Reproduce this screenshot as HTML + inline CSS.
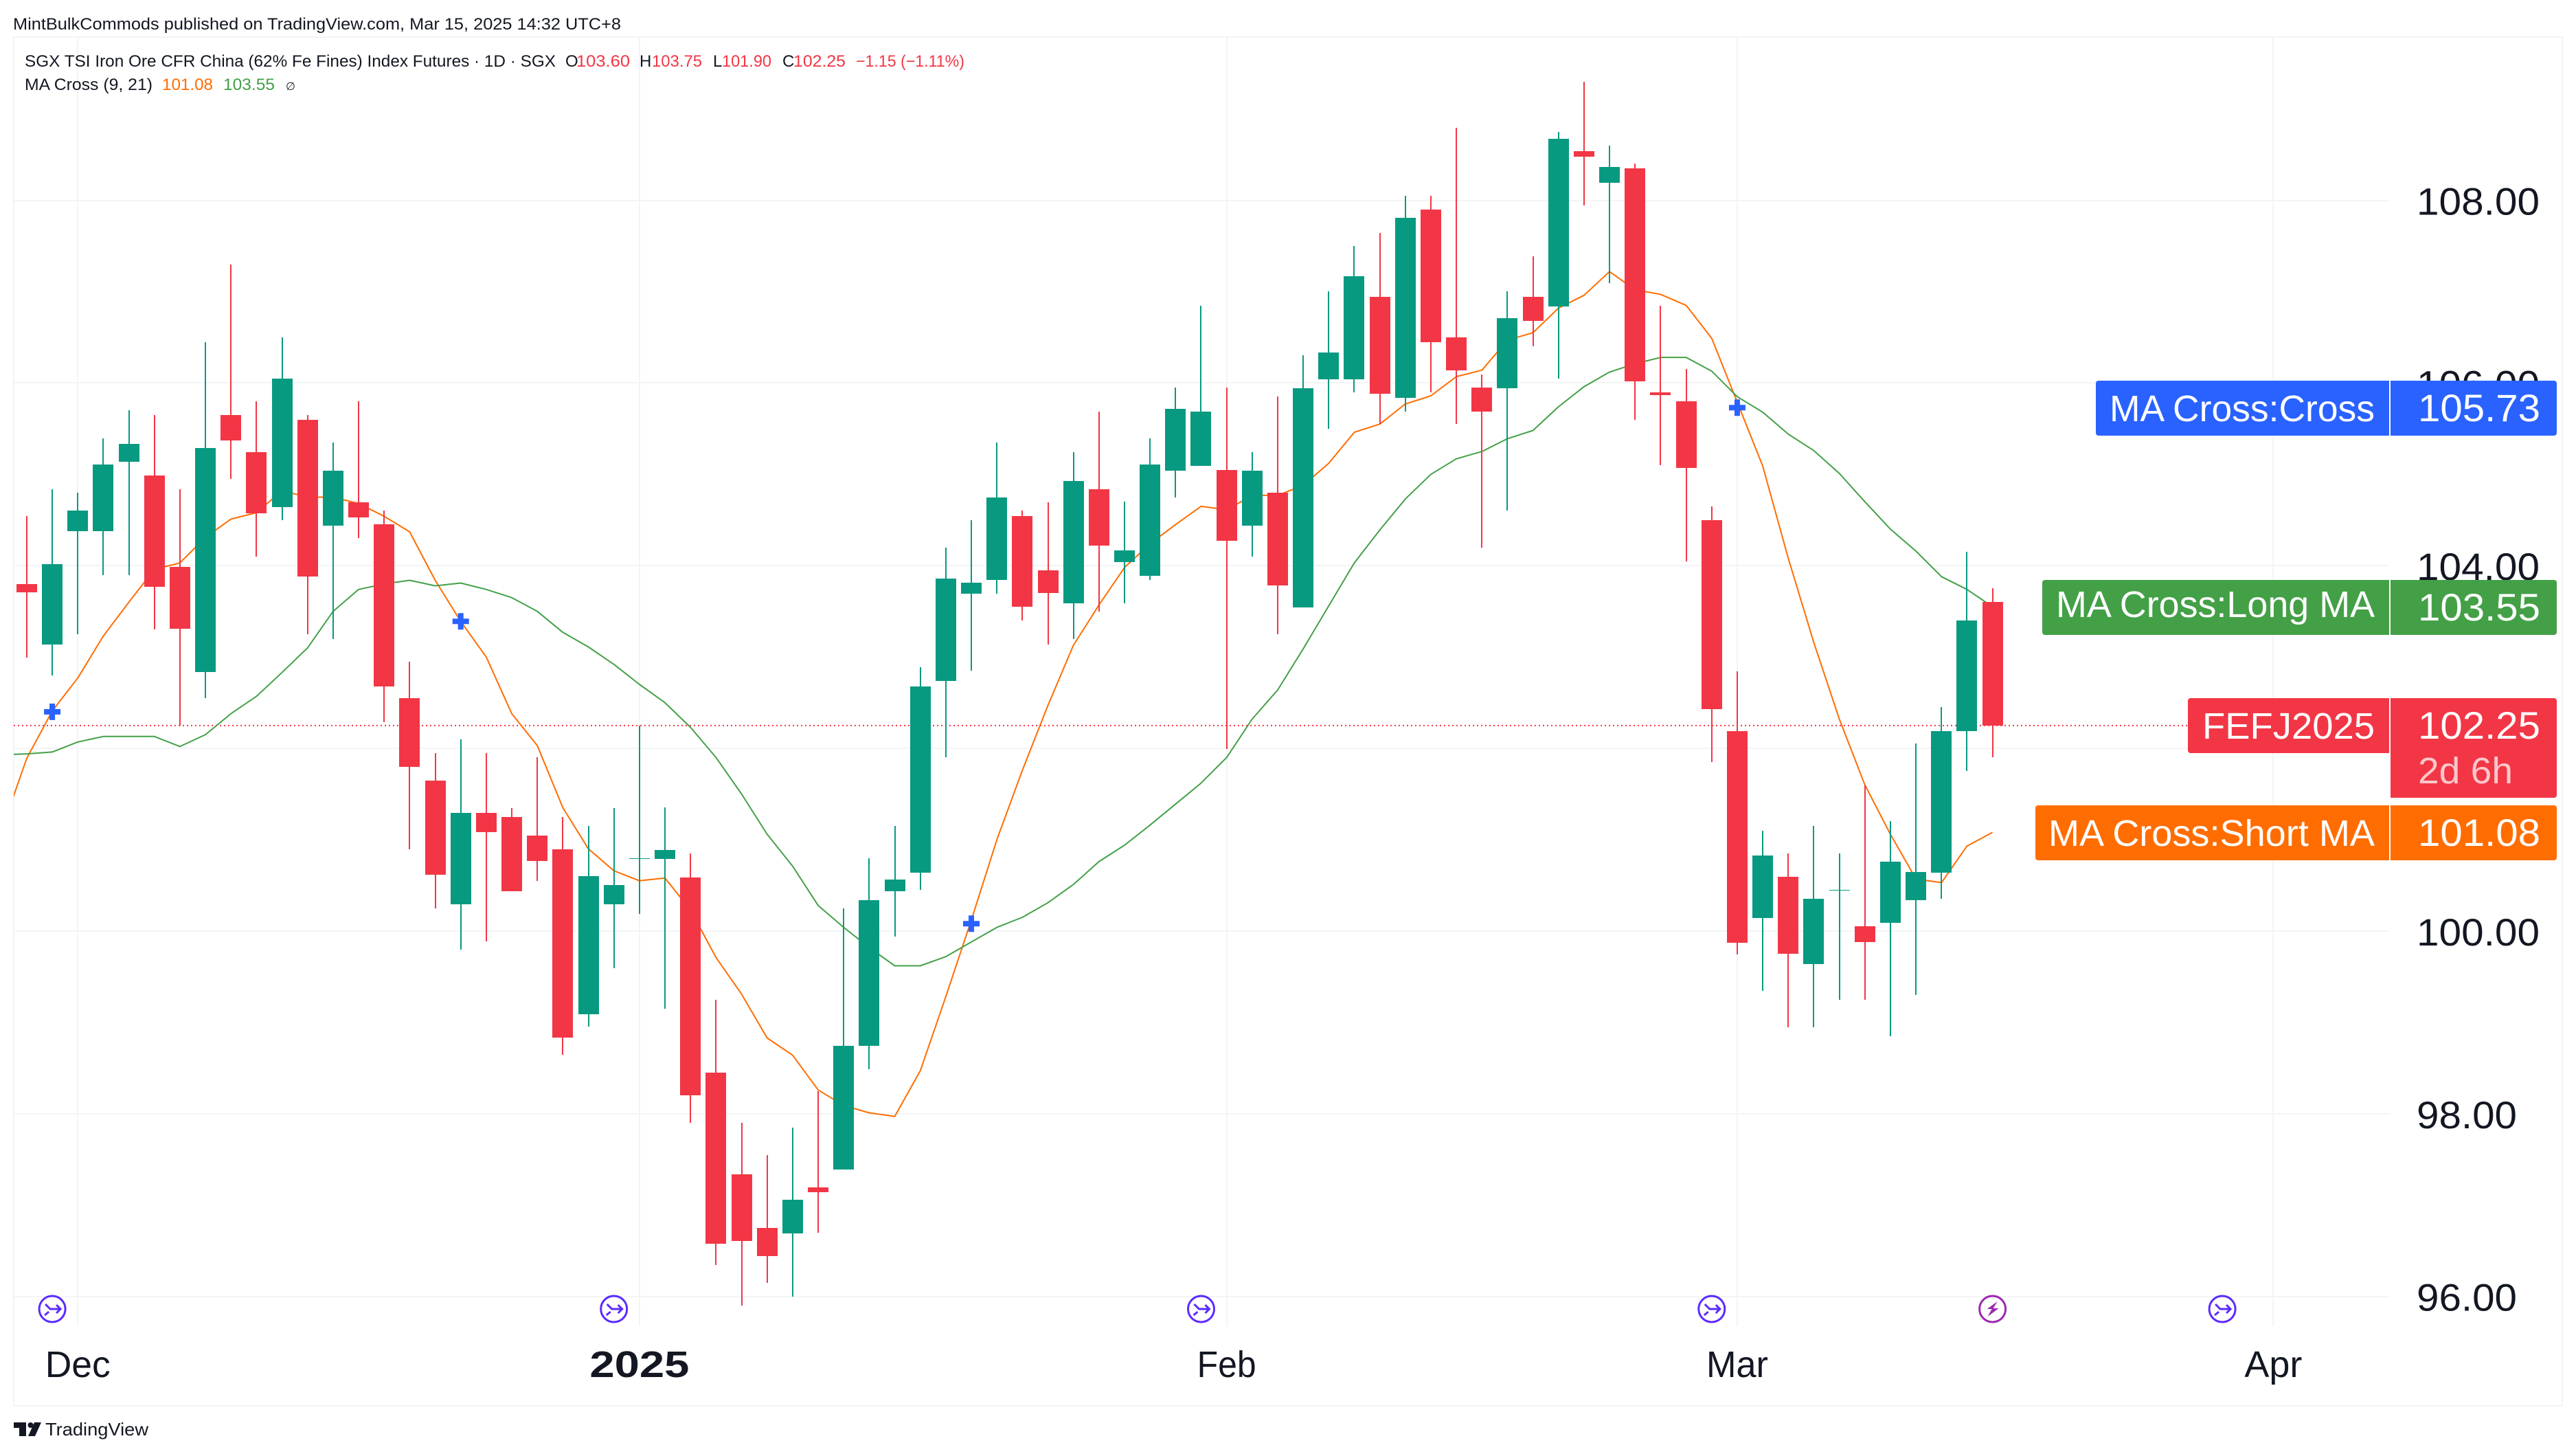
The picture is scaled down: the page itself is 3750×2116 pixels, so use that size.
<!DOCTYPE html>
<html lang="en">
<head>
<meta charset="utf-8">
<title>SGX TSI Iron Ore CFR China (62% Fe Fines) Index Futures chart</title>
<style>
html,body{margin:0;padding:0;background:#fff;width:3750px;height:2116px;overflow:hidden}
svg{display:block;font-family:"Liberation Sans",sans-serif}
text{fill:#131722}
</style>
</head>
<body>
<svg xmlns="http://www.w3.org/2000/svg" width="3750" height="2116" viewBox="0 0 3750 2116">
  <defs><clipPath id="plot-clip"><rect x="20" y="53" width="3458" height="1877"/></clipPath></defs>
  <rect x="0" y="0" width="3750" height="2116" fill="#ffffff"/>
  <text x="19" y="43" font-size="24" textLength="885" lengthAdjust="spacingAndGlyphs">MintBulkCommods published on TradingView.com, Mar 15, 2025 14:32 UTC+8</text>
  <g fill="none" stroke="#f2f3f5" stroke-width="2">
    <path d="M20 54H3730V2046H20Z"/>
  </g>
  <g id="grid-layer"></g>
  <g id="last-price-layer"></g>
  <g id="ma-layer" clip-path="url(#plot-clip)"></g>
  <g id="candle-layer"></g>
  <g id="marker-layer"></g>
  <g id="event-layer"></g>
  <g id="axis-layer"></g>

  <g font-size="24">
    <text x="36" y="97" textLength="773" lengthAdjust="spacingAndGlyphs">SGX TSI Iron Ore CFR China (62% Fe Fines) Index Futures · 1D · SGX</text>
    <text x="823" y="97">O</text>
    <text x="839" y="97" style="fill:#F23645" textLength="78" lengthAdjust="spacingAndGlyphs">103.60</text>
    <text x="931" y="97">H</text>
    <text x="949" y="97" style="fill:#F23645" textLength="73" lengthAdjust="spacingAndGlyphs">103.75</text>
    <text x="1038" y="97">L</text>
    <text x="1051" y="97" style="fill:#F23645" textLength="72" lengthAdjust="spacingAndGlyphs">101.90</text>
    <text x="1139" y="97">C</text>
    <text x="1155" y="97" style="fill:#F23645" textLength="76" lengthAdjust="spacingAndGlyphs">102.25</text>
    <text x="1246" y="97" style="fill:#F23645" textLength="158" lengthAdjust="spacingAndGlyphs">−1.15 (−1.11%)</text>
    <text x="36" y="131" textLength="186" lengthAdjust="spacingAndGlyphs">MA Cross (9, 21)</text>
    <text x="236" y="131" style="fill:#FF6D00" textLength="74" lengthAdjust="spacingAndGlyphs">101.08</text>
    <text x="325" y="131" style="fill:#43A047" textLength="75" lengthAdjust="spacingAndGlyphs">103.55</text>
    <text x="416" y="131" font-size="16">∅</text>
  </g>

  <g font-size="54">
    <g>
      <path d="M3055 554H3478V634H3055A4 4 0 0 1 3051 630V558A4 4 0 0 1 3055 554Z" fill="#2962FF"/>
      <path d="M3480 554H3718A4 4 0 0 1 3722 558V630A4 4 0 0 1 3718 634H3480Z" fill="#2962FF"/>
      <text x="3071" y="613" style="fill:#fff" textLength="386" lengthAdjust="spacingAndGlyphs">MA Cross:Cross</text>
      <text x="3520" y="613" style="fill:#fff" font-size="56" textLength="178" lengthAdjust="spacingAndGlyphs">105.73</text>
    </g>
    <g>
      <path d="M2977 844H3478V924H2977A4 4 0 0 1 2973 920V848A4 4 0 0 1 2977 844Z" fill="#43A047"/>
      <path d="M3480 844H3718A4 4 0 0 1 3722 848V920A4 4 0 0 1 3718 924H3480Z" fill="#43A047"/>
      <text x="2993" y="898" style="fill:#fff" textLength="464" lengthAdjust="spacingAndGlyphs">MA Cross:Long MA</text>
      <text x="3520" y="903" style="fill:#fff" font-size="56" textLength="178" lengthAdjust="spacingAndGlyphs">103.55</text>
    </g>
    <g>
      <path d="M3189 1016H3478V1096H3189A4 4 0 0 1 3185 1092V1020A4 4 0 0 1 3189 1016Z" fill="#F23645"/>
      <path d="M3480 1016H3718A4 4 0 0 1 3722 1020V1157A4 4 0 0 1 3718 1161H3480Z" fill="#F23645"/>
      <text x="3206" y="1075" style="fill:#fff" textLength="251" lengthAdjust="spacingAndGlyphs">FEFJ2025</text>
      <text x="3520" y="1075" style="fill:#fff" font-size="56" textLength="178" lengthAdjust="spacingAndGlyphs">102.25</text>
      <text x="3520" y="1140" style="fill:#fff;fill-opacity:.72" textLength="138" lengthAdjust="spacingAndGlyphs">2d 6h</text>
    </g>
    <g>
      <path d="M2967 1172H3478V1252H2967A4 4 0 0 1 2963 1248V1176A4 4 0 0 1 2967 1172Z" fill="#FF6D00"/>
      <path d="M3480 1172H3718A4 4 0 0 1 3722 1176V1248A4 4 0 0 1 3718 1252H3480Z" fill="#FF6D00"/>
      <text x="2982" y="1231" style="fill:#fff" textLength="475" lengthAdjust="spacingAndGlyphs">MA Cross:Short MA</text>
      <text x="3520" y="1231" style="fill:#fff" font-size="56" textLength="178" lengthAdjust="spacingAndGlyphs">101.08</text>
    </g>
  </g>

  <g>
    <path d="M20 2070H38V2090H28V2078H20Z" fill="#131722"/>
    <circle cx="44.5" cy="2074" r="4" fill="#131722"/>
    <path d="M50 2070H60L51 2090H41Z" fill="#131722"/>
    <text x="66" y="2089" font-size="26" textLength="150" lengthAdjust="spacingAndGlyphs">TradingView</text>
  </g>
</svg>
<script>
// ---- chart values (prices; index = trading-day bar) ----
const candleOpen = [103.80,103.135,104.38,104.38,105.14,104.99,103.99,102.835,105.65,105.24,104.64,105.60,104.44,104.695,104.45,102.55,101.65,100.29,101.29,101.25,101.045,100.895,99.09,100.29,100.80,100.79,100.59,98.45,97.34,96.75,96.69,97.195,97.39,98.74,100.435,100.64,102.74,103.69,103.84,104.54,103.95,103.59,104.84,104.04,103.89,105.04,105.09,105.05,104.44,104.80,103.54,106.04,106.04,106.945,105.84,107.90,106.50,105.95,105.94,106.945,106.84,108.54,108.19,108.35,105.90,105.80,104.50,102.19,100.14,100.595,99.64,100.45,100.05,100.09,100.34,100.64,102.19,103.60];
const candleHigh = [104.545,104.84,104.80,105.39,105.70,105.65,104.84,106.445,107.30,105.80,106.50,105.65,105.35,105.80,104.60,102.95,101.95,102.10,101.95,101.345,101.90,101.25,101.15,101.345,102.25,101.35,100.85,99.25,97.90,97.55,97.85,98.25,100.245,100.80,101.15,102.89,104.20,104.50,105.35,104.60,104.69,105.24,105.69,104.70,105.39,105.95,106.845,105.95,105.245,105.85,106.30,107.00,107.50,107.64,108.05,108.05,108.79,106.095,107.00,107.39,108.75,109.30,108.60,108.40,106.845,106.15,104.65,102.84,101.10,100.85,101.15,100.85,101.60,101.20,102.05,102.45,104.15,103.75];
const candleLow = [102.996,102.80,103.25,103.895,103.895,103.30,102.25,102.55,104.95,104.10,104.50,103.25,103.20,104.30,102.29,100.895,100.25,99.80,99.89,100.435,100.55,98.645,98.955,99.595,100.19,99.15,97.90,96.345,95.90,96.15,96.00,96.70,97.39,98.49,99.94,100.45,101.90,102.85,103.69,103.40,103.14,103.20,103.50,103.59,103.84,104.75,105.09,101.995,104.10,103.25,103.54,105.50,105.90,105.55,105.69,105.90,105.55,104.195,104.60,106.40,106.05,107.94,107.09,105.60,105.10,104.05,101.85,99.745,99.345,98.95,98.95,99.25,99.25,98.85,99.30,100.35,101.75,101.90];
const candleClose = [103.71,104.015,104.60,105.11,105.33,103.77,103.31,105.29,105.37,104.57,106.05,103.88,105.04,104.53,102.68,101.80,100.62,101.29,101.085,100.435,100.77,98.83,100.60,100.50,100.80,100.89,98.20,96.58,96.61,96.44,97.06,97.14,98.74,100.34,100.56,102.68,103.86,103.81,104.75,103.55,103.70,104.93,104.22,104.17,105.11,105.715,105.69,104.275,105.04,103.78,105.94,106.33,107.17,105.885,107.81,106.45,106.14,105.69,106.71,106.68,108.675,108.48,108.365,106.015,105.87,105.07,102.43,99.87,100.83,99.75,100.35,100.45,99.88,100.76,100.65,102.19,103.40,102.25];
// first MA entries sit one bar before the first candle (bar -1)
const shortMA = [101.09,101.89,102.41,102.77,103.23,103.60,103.96,104.03,104.31,104.51,104.58,104.82,104.75,104.75,104.68,104.54,104.37,103.84,103.39,103.00,102.38,102.03,101.35,100.90,100.66,100.55,100.58,100.23,99.71,99.31,98.83,98.64,98.26,98.09,98.01,97.97,98.47,99.28,100.12,101.00,101.76,102.47,103.13,103.57,103.98,104.24,104.45,104.65,104.61,104.77,104.77,104.88,105.12,105.46,105.55,105.77,105.86,106.07,106.14,106.47,106.55,106.82,106.96,107.22,107.02,106.97,106.85,106.49,105.79,105.09,104.08,103.16,102.32,101.60,101.06,100.57,100.53,100.93,101.08];
const longMA = [101.93,101.94,101.96,102.07,102.13,102.13,102.13,102.02,102.15,102.38,102.57,102.83,103.10,103.50,103.74,103.80,103.84,103.78,103.81,103.74,103.65,103.50,103.27,103.11,102.92,102.70,102.50,102.23,101.90,101.50,101.06,100.71,100.28,100.04,99.82,99.62,99.62,99.72,99.88,100.04,100.15,100.31,100.51,100.76,100.94,101.16,101.39,101.62,101.90,102.32,102.64,103.09,103.56,104.03,104.39,104.73,105.00,105.17,105.25,105.39,105.48,105.74,105.96,106.12,106.21,106.28,106.28,106.13,105.85,105.68,105.44,105.26,105.01,104.70,104.40,104.16,103.88,103.74,103.55];
const crossBars = [1,17,37,67];
const crossValues = [102.40,103.39,100.08,105.73];
const priceTicks = [108,106,104,102,100,98,96];
const priceTickLabels = ["108.00","106.00","104.00","","100.00","98.00","96.00"];
const timeTickBars = [2,24,47,67,88];
const timeTickLabels = ["Dec","2025","Feb","Mar","Apr"];
const arrowEventBars = [1,23,46,66,86];
const boltEventBars = [77];
const lastPrice = 102.25;

// ---- axis functions ----
const SVGNS = "http://www.w3.org/2000/svg";
function xScale(bar){ return 38.9 + bar * 37.165; }
function yScale(price){ return 291.5 + (108 - price) * 132.93; }
function shape(parent, tag, attrs){
  const el = document.createElementNS(SVGNS, tag);
  for (const k in attrs) el.setAttribute(k, attrs[k]);
  parent.appendChild(el);
  return el;
}
const gridLayer = document.getElementById('grid-layer');
const lastLayer = document.getElementById('last-price-layer');
const maLayer = document.getElementById('ma-layer');
const candleLayer = document.getElementById('candle-layer');
const markerLayer = document.getElementById('marker-layer');
const eventLayer = document.getElementById('event-layer');
const axisLayer = document.getElementById('axis-layer');

// grid
priceTicks.forEach(function(p){
  const y = Math.round(yScale(p));
  const el = shape(gridLayer, 'rect', {x:20, y:y-1, width:3458, height:2, fill:'#f3f4f6'});
  
  
});
timeTickBars.forEach(function(b){
  const x = Math.round(xScale(b));
  const el = shape(gridLayer, 'rect', {x:x-1, y:54, width:2, height:1876, fill:'#f3f4f6'});
  
  
});

// last price dotted line
(function(){
  const y = yScale(lastPrice);
  const el = shape(lastLayer, 'line', {x1:20, x2:3185, y1:y, y2:y, stroke:'#F23645', 'stroke-width':2, 'stroke-dasharray':'2 4'});
  
  
})();

// moving averages
function maPath(values){
  return values.map(function(v, i){
    return (i ? 'L' : 'M') + xScale(i - 1).toFixed(1) + ' ' + yScale(v).toFixed(1);
  }).join('');
}
const shortLine = shape(maLayer, 'path', {d:maPath(shortMA), fill:'none', stroke:'#FF6D00', 'stroke-width':2, 'stroke-linejoin':'round'});


const longLine = shape(maLayer, 'path', {d:maPath(longMA), fill:'none', stroke:'#43A047', 'stroke-width':2, 'stroke-linejoin':'round'});



// candles
candleOpen.forEach(function(o, i){
  const c = candleClose[i], h = candleHigh[i], l = candleLow[i];
  const color = c >= o ? '#089981' : '#F23645';
  const cx = Math.round(xScale(i));
  const yH = Math.round(yScale(h)), yL = Math.round(yScale(l));
  const yT = Math.round(yScale(Math.max(o, c))), yB = Math.round(yScale(Math.min(o, c)));
  const g = shape(candleLayer, 'g', {'shape-rendering':'crispEdges'});
  
  
  const wick = shape(g, 'rect', {x:cx-1, y:yH, width:2, height:Math.max(1, yL-yH), fill:color});
  
  
  const body = shape(g, 'rect', {x:cx-15, y:yT, width:30, height:Math.max(1, yB-yT), fill:color});
  
  
});

// cross markers
crossBars.forEach(function(b, i){
  const cx = xScale(b), cy = yScale(crossValues[i]);
  const el = shape(markerLayer, 'path', {
    d:'M'+(cx-12)+' '+(cy-4)+'h8v-8h8v8h8v8h-8v8h-8v-8h-8z',
    fill:'#2962FF'
  });
  
  
});

// event icons
arrowEventBars.forEach(function(b){
  const cx = xScale(b), cy = 1905;
  const g = shape(eventLayer, 'g', {transform:'translate('+cx+' '+cy+')', fill:'none', stroke:'#5B2BFF', 'stroke-width':3});
  
  
  shape(g, 'circle', {cx:0, cy:0, r:19});
  shape(g, 'path', {d:'M-10 -7L-3 0H11M6 -6L12 0L6 6M-11 9L-5 4'});
});
boltEventBars.forEach(function(b){
  const cx = xScale(b), cy = 1905;
  const g = shape(eventLayer, 'g', {transform:'translate('+cx+' '+cy+')'});
  
  
  shape(g, 'circle', {cx:0, cy:0, r:19, fill:'none', stroke:'#9C27B0', 'stroke-width':3});
  shape(g, 'path', {d:'M7 -11L-8 0H-1L-7 11L9 -1H1Z', fill:'#9C27B0'});
});

// price axis labels
priceTicks.forEach(function(p, i){
  if (!priceTickLabels[i]) return;
  const t = shape(axisLayer, 'text', {x:3518, y:yScale(p)+21, 'font-size':56, textLength:priceTickLabels[i].length === 6 ? 179 : 146, lengthAdjust:'spacingAndGlyphs'});
  
  
  t.textContent = priceTickLabels[i];
});

// time axis labels
timeTickBars.forEach(function(b, i){
  const label = timeTickLabels[i];
  const bold = label === '2025';
  const widths = {Dec:95, '2025':145, Feb:86, Mar:90, Apr:84};
  const w = widths[label];
  const t = shape(axisLayer, 'text', {x:xScale(b) - w/2, y:2004, 'font-size':54, 'font-weight':bold ? 700 : 400, textLength:w, lengthAdjust:'spacingAndGlyphs'});
  
  
  t.textContent = label;
});
</script>
</body>
</html>
